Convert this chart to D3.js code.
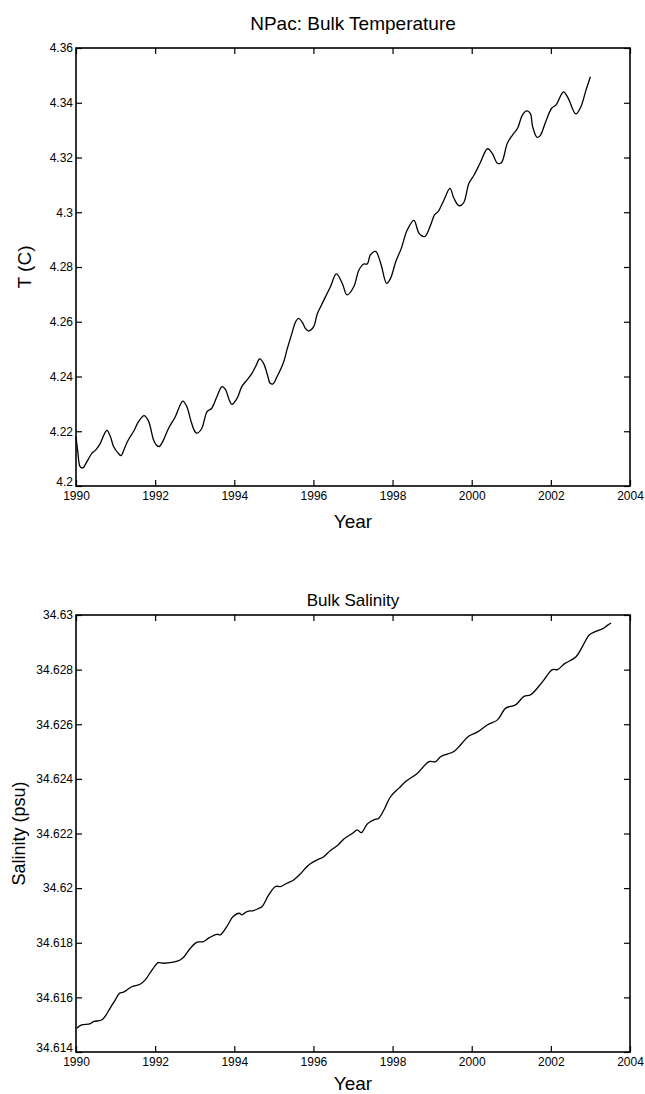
<!DOCTYPE html>
<html>
<head>
<meta charset="utf-8">
<script src="https://cdn.jsdelivr.net/npm/d3@7"></script>
<style>
  body { margin: 0; background: #fff; }
  text { font-family: "Liberation Sans", Arial, Helvetica, sans-serif; fill: #000; }
</style>
</head>
<body>
<div id="chart"></div>
<script>
// Year ticks shared by both panels
const yearTicks = [1990, 1992, 1994, 1996, 1998, 2000, 2002, 2004];

// NPac bulk temperature
const tempYears = [
  1990.00, 1990.05, 1990.10, 1990.17, 1990.28, 1990.40, 1990.50, 1990.61, 1990.70, 1990.78,
  1990.87, 1990.95, 1991.07, 1991.14, 1991.20, 1991.28, 1991.36, 1991.45, 1991.58, 1991.72,
  1991.83, 1991.96, 1992.03, 1992.10, 1992.20, 1992.34, 1992.51, 1992.60, 1992.70, 1992.80,
  1992.91, 1993.00, 1993.06, 1993.18, 1993.31, 1993.43, 1993.56, 1993.69, 1993.78, 1993.87,
  1993.94, 1994.07, 1994.19, 1994.32, 1994.45, 1994.55, 1994.64, 1994.74, 1994.83, 1994.91,
  1994.98, 1995.08, 1995.25, 1995.33, 1995.45, 1995.55, 1995.62, 1995.72, 1995.80, 1995.88,
  1996.00, 1996.10, 1996.20, 1996.30, 1996.43, 1996.58, 1996.73, 1996.85, 1997.02, 1997.15,
  1997.27, 1997.36, 1997.44, 1997.57, 1997.70, 1997.85, 1997.95, 1998.08, 1998.22, 1998.37,
  1998.54, 1998.67, 1998.81, 1998.96, 1999.06, 1999.15, 1999.30, 1999.45, 1999.55, 1999.68,
  1999.79, 1999.93, 2000.06, 2000.21, 2000.40, 2000.52, 2000.65, 2000.75, 2000.90, 2001.03,
  2001.16, 2001.28, 2001.39, 2001.48, 2001.54, 2001.65, 2001.73, 2001.87, 2002.02, 2002.13,
  2002.32, 2002.44, 2002.63, 2002.76, 2002.89, 2003.00
];
const tempValues = [
  4.2180, 4.2120, 4.2072, 4.2066, 4.2090, 4.2119, 4.2132, 4.2155, 4.2185, 4.2203,
  4.2180, 4.2144, 4.2119, 4.2111, 4.2128, 4.2156, 4.2178, 4.2198, 4.2235, 4.2257,
  4.2238, 4.2168, 4.2150, 4.2144, 4.2165, 4.2211, 4.2253, 4.2285, 4.2310, 4.2290,
  4.2235, 4.2200, 4.2193, 4.2211, 4.2271, 4.2284, 4.2326, 4.2363, 4.2352, 4.2315,
  4.2298, 4.2320, 4.2363, 4.2387, 4.2412, 4.2440, 4.2464, 4.2448, 4.2410, 4.2375,
  4.2373, 4.2399, 4.2454, 4.2497, 4.2555, 4.2600, 4.2612, 4.2598, 4.2575, 4.2566,
  4.2580, 4.2630, 4.2660, 4.2690, 4.2728, 4.2775, 4.2740, 4.2698, 4.2728, 4.2789,
  4.2811, 4.2811, 4.2844, 4.2857, 4.2814, 4.2740, 4.2759, 4.2819, 4.2868, 4.2935,
  4.2970, 4.2923, 4.2911, 4.2953, 4.2990, 4.3002, 4.3045, 4.3087, 4.3051, 4.3024,
  4.3033, 4.3106, 4.3136, 4.3179, 4.3232, 4.3215, 4.3179, 4.3181, 4.3252, 4.3282,
  4.3307, 4.3355, 4.3370, 4.3361, 4.3313, 4.3274, 4.3280, 4.3331, 4.3380, 4.3392,
  4.3440, 4.3416, 4.3359, 4.3386, 4.3447, 4.3495
];
const tempTicks = [4.2, 4.22, 4.24, 4.26, 4.28, 4.3, 4.32, 4.34, 4.36];

// Bulk salinity
const salYears = [
  1990.02, 1990.14, 1990.35, 1990.44, 1990.65, 1990.73, 1990.86, 1990.99, 1991.10, 1991.20,
  1991.41, 1991.62, 1991.75, 1991.92, 1992.08, 1992.21, 1992.46, 1992.63, 1992.73, 1992.89,
  1993.06, 1993.22, 1993.35, 1993.56, 1993.65, 1993.81, 1993.97, 1994.13, 1994.19, 1994.32,
  1994.49, 1994.62, 1994.70, 1994.87, 1995.04, 1995.18, 1995.33, 1995.50, 1995.67, 1995.88,
  1996.09, 1996.26, 1996.43, 1996.60, 1996.77, 1996.98, 1997.11, 1997.21, 1997.36, 1997.53,
  1997.65, 1997.78, 1997.95, 1998.16, 1998.33, 1998.63, 1998.92, 1999.09, 1999.22, 1999.55,
  1999.72, 1999.93, 2000.14, 2000.40, 2000.65, 2000.86, 2001.11, 2001.32, 2001.49, 2001.79,
  2002.04, 2002.17, 2002.34, 2002.63, 2002.80, 2002.97, 2003.14, 2003.31, 2003.42, 2003.52
];
const salValues = [
  34.61487, 34.61499, 34.61503, 34.61511, 34.61517, 34.61529, 34.61560, 34.61590, 34.61615, 34.61619,
  34.61639, 34.61648, 34.61664, 34.61700, 34.61727, 34.61725, 34.61729, 34.61737, 34.61749, 34.61780,
  34.61802, 34.61804, 34.61817, 34.61831, 34.61829, 34.61859, 34.61896, 34.61908, 34.61902, 34.61914,
  34.61918, 34.61926, 34.61932, 34.61975, 34.62006, 34.62006, 34.62018, 34.62030, 34.62052, 34.62085,
  34.62103, 34.62115, 34.62138, 34.62155, 34.62180, 34.62200, 34.62213, 34.62203, 34.62235, 34.62250,
  34.62256, 34.62286, 34.62335, 34.62366, 34.62390, 34.62421, 34.62463, 34.62463, 34.62482, 34.62500,
  34.62525, 34.62557, 34.62571, 34.62598, 34.62616, 34.62659, 34.62671, 34.62702, 34.62708, 34.62756,
  34.62800, 34.62800, 34.62821, 34.62846, 34.62885, 34.62927, 34.62940, 34.62950, 34.62961, 34.62971
];
const salTicks = [34.614, 34.616, 34.618, 34.62, 34.622, 34.624, 34.626, 34.628, 34.63];

const width = 645, height = 1094;
const plotLeft = 76, plotRight = 630;

const svg = d3.select("#chart")
    .append("svg")
    .attr("width", width)
    .attr("height", height);

// Draws one boxed panel, matlab style (ticks inside on all four sides)
function drawPanel(p) {
    const x = d3.scaleLinear().domain([1990, 2004]).range([plotLeft, plotRight]);
    const y = d3.scaleLinear().domain(p.domain).range([p.bottom, p.top]);
    const g = svg.append("g");

    // inward ticks on all sides
    const tickLen = 6;
    g.append("g")
        .attr("transform", `translate(0,${p.bottom})`)
        .call(d3.axisBottom(x).tickValues(yearTicks).tickSize(-tickLen).tickFormat(d3.format("d")))
        .call(a => a.select(".domain").remove())
        .call(a => a.selectAll("text").attr("font-size", 12).attr("dy", "0.71em").attr("y", 5));
    g.append("g")
        .attr("transform", `translate(0,${p.top})`)
        .call(d3.axisTop(x).tickValues(yearTicks).tickSize(-tickLen).tickFormat(""))
        .call(a => a.select(".domain").remove());
    g.append("g")
        .attr("transform", `translate(${plotLeft},0)`)
        .call(d3.axisLeft(y).tickValues(p.ticks).tickSize(-tickLen).tickFormat(d => String(+d.toFixed(3))))
        .call(a => a.select(".domain").remove())
        .call(a => a.selectAll("text").attr("font-size", 12).attr("x", -3)
            // lowest label sits a bit higher so it clears the year label below it
            .attr("y", (d, i) => i === 0 ? -4 : 0));
    g.append("g")
        .attr("transform", `translate(${plotRight},0)`)
        .call(d3.axisRight(y).tickValues(p.ticks).tickSize(-tickLen).tickFormat(""))
        .call(a => a.select(".domain").remove());
    g.selectAll(".tick line").attr("stroke", "#000").attr("stroke-width", 1.2);

    // box
    g.append("rect")
        .attr("x", plotLeft)
        .attr("y", p.top)
        .attr("width", plotRight - plotLeft)
        .attr("height", p.bottom - p.top)
        .attr("fill", "none")
        .attr("stroke", "#000")
        .attr("stroke-width", 1.6);

    // the series
    const line = d3.line()
        .x((d, i) => x(p.xs[i]))
        .y(d => y(d))
        .curve(d3.curveCatmullRom.alpha(0.5));
    g.append("path")
        .datum(p.ys)
        .attr("d", line)
        .attr("fill", "none")
        .attr("stroke", "#000")
        .attr("stroke-width", 1.3);

    // titles and labels
    const midX = (plotLeft + plotRight) / 2;
    g.append("text")
        .attr("x", midX).attr("y", p.titleY)
        .attr("text-anchor", "middle")
        .attr("font-size", p.titleSize)
        .text(p.title);
    g.append("text")
        .attr("x", midX).attr("y", p.xLabelY)
        .attr("text-anchor", "middle")
        .attr("font-size", 19)
        .text("Year");
    g.append("text")
        .attr("transform", `translate(${p.yLabelX},${(p.top + p.bottom) / 2}) rotate(-90)`)
        .attr("text-anchor", "middle")
        .attr("font-size", p.yLabelSize)
        .text(p.yLabel);
}

drawPanel({
    top: 48, bottom: 486,
    domain: [4.2, 4.36], ticks: tempTicks,
    xs: tempYears, ys: tempValues,
    title: "NPac: Bulk Temperature", titleY: 30, titleSize: 19,
    xLabelY: 528,
    yLabel: "T (C)", yLabelX: 31, yLabelSize: 19
});

drawPanel({
    top: 615, bottom: 1052,
    domain: [34.614, 34.63], ticks: salTicks,
    xs: salYears, ys: salValues,
    title: "Bulk Salinity", titleY: 606, titleSize: 17,
    xLabelY: 1090,
    yLabel: "Salinity (psu)", yLabelX: 25, yLabelSize: 18
});
</script>
</body>
</html>
